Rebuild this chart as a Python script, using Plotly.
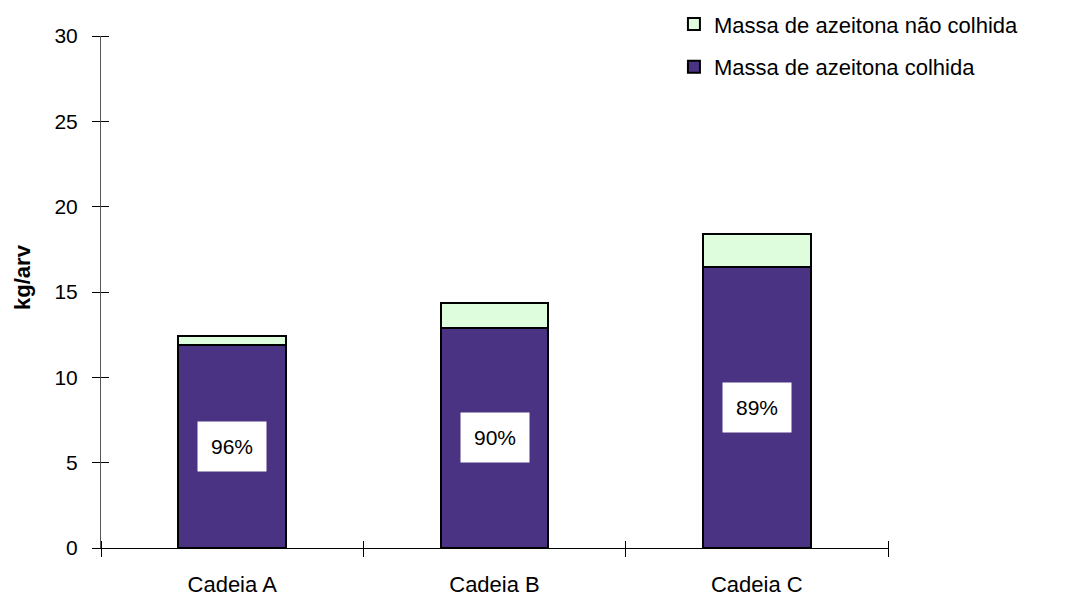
import plotly.graph_objects as go

# dados (kg/árvore)
cadeias = ['Cadeia A', 'Cadeia B', 'Cadeia C']
colhida = [11.9, 12.9, 16.45]
nao_colhida = [0.5, 1.45, 1.95]
percent = ['96%', '90%', '89%']
yticks = [0, 5, 10, 15, 20, 25, 30]

fig = go.Figure()

fig.add_trace(go.Bar(
    x=cadeias, y=colhida, name='Massa de azeitona colhida',
    marker=dict(color='#4B3383', line=dict(color='black', width=2)),
    legendgroup='colhida', legendrank=2))
fig.add_trace(go.Bar(
    x=cadeias, y=nao_colhida, name='Massa de azeitona não colhida',
    marker=dict(color='#DDFDDD', line=dict(color='black', width=2)),
    legendgroup='nao', legendrank=1))

# traços invisíveis só para ativar os eixos extra (marcas cruzadas)
fig.add_trace(go.Scatter(x=cadeias, y=colhida, yaxis='y2', mode='none',
                         showlegend=False, hoverinfo='skip'))
fig.add_trace(go.Scatter(x=cadeias, y=colhida, xaxis='x2', mode='none',
                         showlegend=False, hoverinfo='skip'))

# caixas brancas com a percentagem colhida
for c, v, p in zip(cadeias, colhida, percent):
    fig.add_annotation(x=c, y=v / 2, text=p, showarrow=False,
                       bgcolor='white', borderpad=13,
                       font=dict(size=21, color='black'))

fig.add_annotation(xref='paper', yref='paper', x=-0.1, y=0.53,
                   xanchor='center', yanchor='middle',
                   text='<b>kg/arv</b>', textangle=-90, showarrow=False,
                   font=dict(size=22, color='black'))

fig.update_layout(
    width=1069, height=600,
    barmode='stack', bargap=0.59,
    plot_bgcolor='white', paper_bgcolor='white',
    font=dict(family='Liberation Sans, Arial', color='black'),
    margin=dict(l=93, r=189, t=28, b=60, autoexpand=False),
    legend=dict(x=0.728, y=1.064, xanchor='left', yanchor='top',
                traceorder='grouped', tracegroupgap=11,
                itemwidth=30, font=dict(size=22)),
    xaxis=dict(showline=True, linecolor='black', linewidth=1,
               ticks='outside', tickson='boundaries', ticklen=8,
               tickcolor='black', tickfont=dict(size=22),
               ticklabelstandoff=17, showgrid=False, automargin=False),
    yaxis=dict(range=[0, 30], tickvals=yticks,
               showline=True, linecolor='#555555', linewidth=1,
               ticks='outside', ticklen=8, tickcolor='black',
               tickfont=dict(size=21), ticklabelstandoff=10,
               showgrid=False, zeroline=False, automargin=False),
    # eixos "fantasma" deslocados 8 px para dentro: as marcas voltam até à linha
    xaxis2=dict(overlaying='x', side='bottom', type='category',
                anchor='free', position=8 / 512,
                range=[-0.5, 2.5], ticks='outside', tickson='boundaries',
                ticklen=8, tickcolor='black', showticklabels=False,
                showgrid=False, showline=False, zeroline=False,
                automargin=False),
    yaxis2=dict(overlaying='y', side='left', range=[0, 30],
                anchor='free', position=8 / 787,
                tickvals=yticks, ticks='outside', ticklen=8,
                tickcolor='black', showticklabels=False,
                showgrid=False, showline=False, zeroline=False,
                automargin=False),
)

fig.write_html("out.html")
